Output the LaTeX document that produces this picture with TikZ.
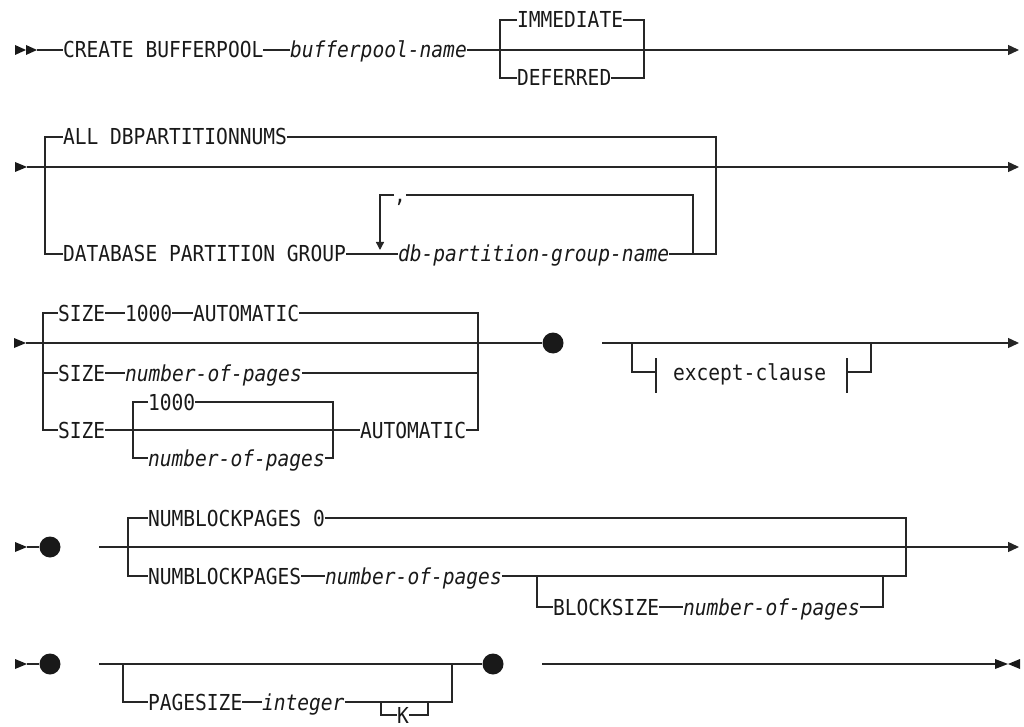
\documentclass[tikz,border=0pt]{standalone}
\usepackage{fontspec}
\setmonofont[FakeStretch=0.89]{DejaVu Sans Mono}
\usepackage{tikz}
\usetikzlibrary{arrows.meta, positioning, calc}
\tikzset{
  rail/.style={draw=black!85, line width=1pt},
  railend/.style={rail, -{Triangle[length=8.25pt, width=7.5pt]}},
  loopback/.style={rail, -{Triangle[length=6pt, width=6pt]}},
  kw/.style={inner sep=0pt, outer sep=0pt, anchor=west,
    text height=12pt, text depth=0pt, text=black!90,
    font=\fontsize{16.5pt}{19pt}\selectfont\ttfamily},
  var/.style={kw, font=\fontsize{16.5pt}{19pt}\selectfont\ttfamily\itshape},
  dot/.style={circle, fill=black!90, inner sep=0pt, minimum size=15.75pt},
  tip/.style={fill=black!90}
}

\begin{document}
\begin{tikzpicture}[x=0.75pt, y=-0.75pt]
\useasboundingbox (0,0) rectangle (1024,727);

% Row 1: CREATE BUFFERPOOL
\fill[tip] (15,45) -- (26,50) -- (15,55) -- cycle;
\fill[tip] (26,45) -- (37,50) -- (26,55) -- cycle;
\coordinate (r1s) at (37,50);
\coordinate (r1e) at (1019,50);
\node[kw] (create) at (63,50) {CREATE BUFFERPOOL};
\node[var] (bpname) at (290,50) {bufferpool-name};
\node[kw] (immed) at (517,20) {IMMEDIATE};
\node[kw] (defer) at (517,78) {DEFERRED};
\draw[rail] (r1s) -- (create);
\draw[rail] (create) -- (bpname);
\draw[railend] (bpname) -- (r1e);
\draw[rail] (immed.west) -| (500,78) -- (defer.west);
\draw[rail] (immed.east) -| (644,78) -- (defer.east);

% Row 2: partition groups
\fill[tip] (15,162) -- (27,167) -- (15,172) -- cycle;
\coordinate (r2s) at (27,167);
\coordinate (r2e) at (1019,167);
\node[kw] (alldb) at (63,137) {ALL DBPARTITIONNUMS};
\node[kw] (dbpg) at (63,254) {DATABASE PARTITION GROUP};
\node[var] (pgname) at (398,254) {db-partition-group-name};
\node[kw] (comma) at (394,195) {,};
\draw[railend] (r2s) -- (r2e);
\draw[rail] (alldb.west) -| (45,254) -- (dbpg.west);
\draw[rail] (alldb.east) -| (716,254) -- (pgname.east);
\draw[rail] (dbpg) -- (pgname);
\draw[rail] (comma.east) -| (693,254);
\draw[loopback] (comma.west) -| (380,250);

% Row 3: SIZE
\fill[tip] (14,338) -- (26,343) -- (14,348) -- cycle;
\coordinate (r3s) at (26,343);
\coordinate (r3e) at (1019,343);
\node[kw] (size1) at (58,313) {SIZE};
\node[kw] (n1000a) at (125,313) {1000};
\node[kw] (auto1) at (193,313) {AUTOMATIC};
\node[kw] (size2) at (58,373) {SIZE};
\node[var] (nop1) at (125,373) {number-of-pages};
\node[kw] (size3) at (58,430) {SIZE};
\node[kw] (n1000b) at (148,402) {1000};
\node[var] (nop2) at (148,458) {number-of-pages};
\node[kw] (auto2) at (360,430) {AUTOMATIC};
\node[dot] (dot3) at (553,343) {};
\draw[rail] (r3s) -- (dot3);
\draw[rail] (size1.west) -| (43,430) -- (size3.west);
\draw[rail] (43,373) -- (size2.west);
\draw[rail] (size1) -- (n1000a);
\draw[rail] (n1000a) -- (auto1);
\draw[rail] (auto1.east) -| (478,430) -- (auto2.east);
\draw[rail] (size2) -- (nop1);
\draw[rail] (nop1.east) -- (478,373);
\draw[rail] (size3) -- (auto2);
\draw[rail] (n1000b.west) -| (133,458) -- (nop2.west);
\draw[rail] (n1000b.east) -| (333,458) -- (nop2.east);

% except-clause fragment
\coordinate (r3b) at (602,343);
\node[kw] (exc) at (673,372) {except-clause};
\draw[railend] (r3b) -- (r3e);
\draw[rail] (656,358) -- (656,393);
\draw[rail] (847,358) -- (847,393);
\draw[rail] (632,343) |- (656,372);
\draw[rail] (847,372) -| (871,343);

% Row 4: NUMBLOCKPAGES
\fill[tip] (15,542) -- (27,547) -- (15,552) -- cycle;
\coordinate (r4s) at (27,547);
\node[dot] (dot4) at (50,547) {};
\coordinate (r4b) at (99,547);
\coordinate (r4e) at (1019,547);
\node[kw] (nbp0) at (148,518) {NUMBLOCKPAGES 0};
\node[kw] (nbp) at (148,576) {NUMBLOCKPAGES};
\node[var] (nop3) at (325,576) {number-of-pages};
\node[kw] (bsz) at (553,607) {BLOCKSIZE};
\node[var] (nop4) at (683,607) {number-of-pages};
\draw[rail] (r4s) -- (dot4);
\draw[railend] (r4b) -- (r4e);
\draw[rail] (nbp0.west) -| (128,576) -- (nbp.west);
\draw[rail] (nbp0.east) -| (906,576) -- (nop3.east);
\draw[rail] (nbp) -- (nop3);
\draw[rail] (537,576) |- (bsz.west);
\draw[rail] (bsz) -- (nop4);
\draw[rail] (nop4.east) -| (883,576);

% Row 5: PAGESIZE
\fill[tip] (15,659) -- (27,664) -- (15,669) -- cycle;
\coordinate (r5s) at (27,664);
\node[dot] (dot5a) at (50,664) {};
\coordinate (r5b) at (99,664);
\node[dot] (dot5b) at (493,664) {};
\node[kw] (psz) at (148,702) {PAGESIZE};
\node[var] (intg) at (262,702) {integer};
\node[kw] (kk) at (397,715) {K};
\draw[rail] (r5s) -- (dot5a);
\draw[rail] (r5b) -- (dot5b);
\draw[rail] (123,664) |- (psz.west);
\draw[rail] (psz) -- (intg);
\draw[rail] (intg.east) -| (452,664);
\draw[rail] (381,702) |- (kk.west);
\draw[rail] (kk.east) -| (428,702);
\coordinate (r5c) at (542,664);
\coordinate (r5e) at (995,664);
\draw[rail] (r5c) -- (r5e);
\fill[tip] (995,659) -- (1008,664) -- (995,669) -- cycle;
\fill[tip] (1020,659) -- (1008,664) -- (1020,669) -- cycle;
\end{tikzpicture}
\end{document}
